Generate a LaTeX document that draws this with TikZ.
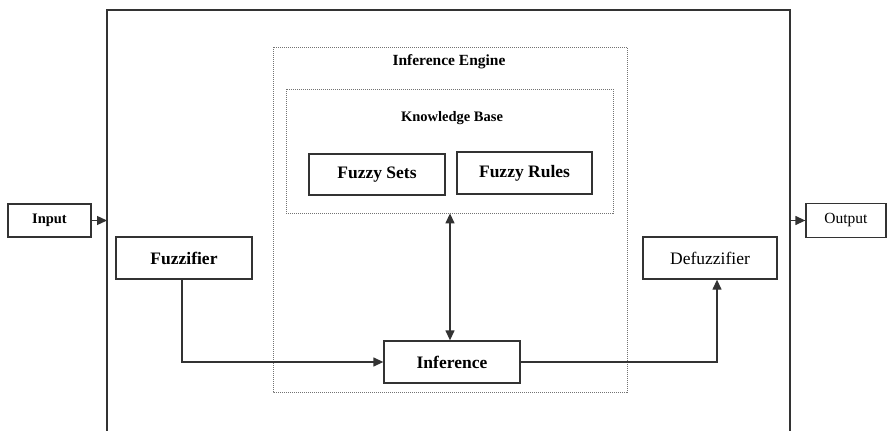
\documentclass[tikz,border=0pt]{standalone}
\usepackage{fontspec}
\setmainfont{Liberation Serif}
\usetikzlibrary{arrows.meta}

\begin{document}
\begin{tikzpicture}[x=1pt,y=-1pt,
  box/.style={draw=black!80,line width=1.3pt,minimum width=136pt,minimum height=42pt,inner sep=0pt,font=\fontsize{17.5}{20}\selectfont\bfseries},
  plainbox/.style={box,font=\fontsize{17.5}{20}\selectfont},
  dotbox/.style={draw=black!55,line width=0.8pt,dash pattern=on 1pt off 1pt,inner sep=0pt},
  arr/.style={draw=black!80,line width=1.3pt,-{Triangle[length=10pt,width=9pt]}}]

\useasboundingbox (0,0) rectangle (887,431);

% outer system
\draw[black!80,line width=1.3pt] (107,431) |- (790,10) -- (790,431);
\coordinate (wl) at (107,220.5);
\coordinate (wr) at (790,220.5);

\node[box,minimum width=83pt,minimum height=33pt,font=\fontsize{14.5}{17}\selectfont\bfseries] (inp) at (49.5,220.5) {Input};
\node[plainbox,minimum width=80pt,minimum height=34pt,font=\fontsize{15.5}{18}\selectfont] (outp) at (846,220.5) {Output};

% inference engine
\draw[dotbox] (273,47) rectangle (627,392);
\node[font=\fontsize{15.5}{18}\selectfont\bfseries] (eng) at (449,62) {Inference Engine};
\node[dotbox,minimum width=327pt,minimum height=124pt] (kb) at (449.5,151) {};
\node[font=\fontsize{14.5}{17}\selectfont\bfseries] (kbt) at (452,118) {Knowledge Base};

\node[box,minimum height=41pt] (sets) at (377,174.5) {Fuzzy Sets};
\node[box,minimum width=135pt] (rules) at (524.5,173) {Fuzzy Rules};

\node[box] (fuz) at (184,258) {Fuzzifier};
\node[plainbox,minimum width=134pt] (defuz) at (710,258) {Defuzzifier};
\node[box] (inf) at (452,362) {Inference};

\draw[arr] (inp.east) -- (wl);
\draw[arr] (wr) -- (outp.west);
\draw[arr] ([xshift=-2pt]fuz.south) |- (inf.west);
\draw[arr] (inf.east) -| ([xshift=7pt]defuz.south);
\draw[arr,{Triangle[length=10pt,width=9pt]}-{Triangle[length=10pt,width=9pt]}] ([xshift=-2pt]inf.north) -- ([xshift=-2pt]inf.north |- kb.south);

\end{tikzpicture}
\end{document}
